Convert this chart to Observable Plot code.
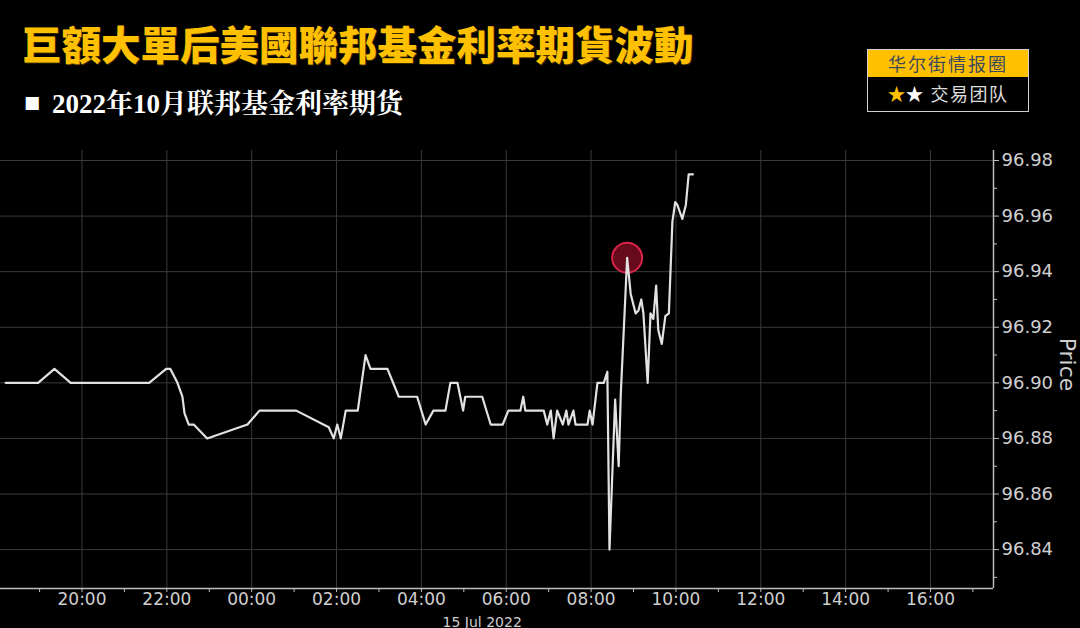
<!DOCTYPE html>
<html>
<head>
<meta charset="utf-8">
<script src="https://cdn.jsdelivr.net/npm/d3@7"></script>
<script src="https://cdn.jsdelivr.net/npm/@observablehq/plot@0.6"></script>
<style>
  html, body { margin: 0; padding: 0; background: #000; width: 1080px; height: 628px; overflow: hidden; }
  #header { position: relative; width: 1080px; height: 140px; }
  #title { position: absolute; left: 22px; top: 23px; font: 900 39.5px/40px "Noto Sans CJK TC", "Noto Sans CJK SC", sans-serif; color: #FFC000; white-space: nowrap; text-shadow: 1px 1px 0 #3a2a00; }
  #bullet { position: absolute; left: 24px; top: 92px; font: 17px/20px "DejaVu Sans", sans-serif; color: #fff; }
  #subtitle { position: absolute; left: 52px; top: 88px; font: bold 27px/32px "Liberation Serif", "Noto Serif CJK SC", "Noto Sans CJK SC", serif; color: #fff; white-space: nowrap; }
  #logo { position: absolute; left: 867px; top: 49px; width: 162px; height: 63px; box-sizing: border-box; border: 1.5px solid #d0d0d0; }
  #logo .top { height: 27px; background: #FFC000; color: #3b4a5e; font: 18px/27px "Noto Sans CJK SC", sans-serif; text-align: center; letter-spacing: 2px; }
  #logo .bot { height: 33px; background: #000; color: #ddd; font: 18px/33px "Noto Sans CJK SC", sans-serif; text-align: center; letter-spacing: 1.5px; }
  #logo .s1 { color: #FFC000; letter-spacing: 0; }
  #logo .s2 { color: #fff; }
</style>
</head>
<body>
<div id="header">
  <div id="title">巨額大單后美國聯邦基金利率期貨波動</div>
  <div id="bullet">■</div>
  <div id="subtitle">2022年10月联邦基金利率期货</div>
  <div id="logo">
    <div class="top">华尔街情报圈</div>
    <div class="bot"><span class="s1">★</span><span class="s2">★</span> 交易团队</div>
  </div>
</div>
<script>
// ---- data ----
const times = [
  "2022-07-14T18:12","2022-07-14T18:58","2022-07-14T19:21","2022-07-14T19:44","2022-07-14T21:35",
  "2022-07-14T21:59","2022-07-14T22:05","2022-07-14T22:15","2022-07-14T22:22","2022-07-14T22:25",
  "2022-07-14T22:31","2022-07-14T22:38","2022-07-14T22:57","2022-07-14T23:54","2022-07-15T00:11",
  "2022-07-15T01:03","2022-07-15T01:49","2022-07-15T01:56","2022-07-15T02:01","2022-07-15T02:06",
  "2022-07-15T02:13","2022-07-15T02:30","2022-07-15T02:41","2022-07-15T02:48","2022-07-15T03:12",
  "2022-07-15T03:28","2022-07-15T03:54","2022-07-15T04:06","2022-07-15T04:17","2022-07-15T04:34",
  "2022-07-15T04:41","2022-07-15T04:51","2022-07-15T04:59","2022-07-15T05:02","2022-07-15T05:26",
  "2022-07-15T05:38","2022-07-15T05:55","2022-07-15T06:03","2022-07-15T06:20","2022-07-15T06:24",
  "2022-07-15T06:27","2022-07-15T06:53","2022-07-15T06:58","2022-07-15T07:03","2022-07-15T07:07",
  "2022-07-15T07:12","2022-07-15T07:20","2022-07-15T07:25","2022-07-15T07:28","2022-07-15T07:35",
  "2022-07-15T07:38","2022-07-15T07:55","2022-07-15T07:58","2022-07-15T08:02","2022-07-15T08:09",
  "2022-07-15T08:18","2022-07-15T08:23","2022-07-15T08:26","2022-07-15T08:34","2022-07-15T08:39",
  "2022-07-15T08:42","2022-07-15T08:51","2022-07-15T08:56","2022-07-15T09:03","2022-07-15T09:07",
  "2022-07-15T09:11","2022-07-15T09:14","2022-07-15T09:20","2022-07-15T09:24","2022-07-15T09:28",
  "2022-07-15T09:32","2022-07-15T09:35","2022-07-15T09:40","2022-07-15T09:45","2022-07-15T09:50",
  "2022-07-15T09:55","2022-07-15T09:59","2022-07-15T10:02","2022-07-15T10:09","2022-07-15T10:14",
  "2022-07-15T10:18","2022-07-15T10:24"
];
const prices = [
  96.900, 96.900, 96.905, 96.900, 96.900,
  96.905, 96.905, 96.900, 96.895, 96.889,
  96.885, 96.885, 96.880, 96.885, 96.890,
  96.890, 96.884, 96.880, 96.885, 96.880,
  96.890, 96.890, 96.910, 96.905, 96.905,
  96.895, 96.895, 96.885, 96.890, 96.890,
  96.900, 96.900, 96.890, 96.895, 96.895,
  96.885, 96.885, 96.890, 96.890, 96.895,
  96.890, 96.890, 96.885, 96.890, 96.880,
  96.890, 96.885, 96.890, 96.885, 96.890,
  96.885, 96.885, 96.890, 96.885, 96.900,
  96.900, 96.904, 96.840, 96.894, 96.870,
  96.896, 96.945, 96.932, 96.925, 96.926,
  96.930, 96.925, 96.900, 96.925, 96.923,
  96.935, 96.919, 96.914, 96.924, 96.925,
  96.958, 96.965, 96.964, 96.959, 96.964,
  96.975, 96.975
];
const highlightTime = ["2022-07-15T08:51"];
const highlightPrice = [96.945];

const xTickTimes = [
  "2022-07-14T20:00","2022-07-14T22:00","2022-07-15T00:00","2022-07-15T02:00","2022-07-15T04:00",
  "2022-07-15T06:00","2022-07-15T08:00","2022-07-15T10:00","2022-07-15T12:00","2022-07-15T14:00",
  "2022-07-15T16:00"
];
const xMinorTimes = [
  "2022-07-14T19:00","2022-07-14T21:00","2022-07-14T23:00","2022-07-15T01:00","2022-07-15T03:00",
  "2022-07-15T05:00","2022-07-15T07:00","2022-07-15T09:00","2022-07-15T11:00","2022-07-15T13:00",
  "2022-07-15T15:00","2022-07-15T17:00"
];
const yTicks = [96.84, 96.86, 96.88, 96.90, 96.92, 96.94, 96.96, 96.98];
const yMinorTicks = [96.83, 96.85, 96.87, 96.89, 96.91, 96.93, 96.95, 96.97];
const dateLabel = ["15 Jul 2022"];
const dateLabelTime = ["2022-07-15T05:26"];
const yLabel = ["Price"];
const xDomainStr = ["2022-07-14T18:04:44", "2022-07-15T17:29:07"];
const yDomain = [96.826, 96.9836];

// ---- build ----
const utc = s => new Date(s + "Z");
const data = times.map((t, i) => ({t: utc(t), p: prices[i]}));
const hi = highlightTime.map((t, i) => ({t: utc(t), p: highlightPrice[i]}));
const xMajor = xTickTimes.map(utc);
const xMinor = xMinorTimes.map(utc);
const xDomain = xDomainStr.map(utc);
const fmt = d3.utcFormat("%H:%M");

const gridColor = "#3a3a3a";
const axisColor = "#bdbdbd";
const textColor = "#cfcfcf";

const chart = Plot.plot({
  width: 1080,
  height: 488,
  marginLeft: 0,
  marginRight: 87,
  marginTop: 10,
  marginBottom: 40,
  style: {background: "#000", color: textColor, fontFamily: "DejaVu Sans, sans-serif", fontSize: "18px", overflow: "visible"},
  x: {type: "utc", domain: xDomain},
  y: {domain: yDomain},
  marks: [
    Plot.gridX(xMajor, {stroke: gridColor, strokeOpacity: 1, strokeWidth: 1}),
    Plot.gridY(yTicks, {stroke: gridColor, strokeOpacity: 1, strokeWidth: 1}),
    Plot.axisX(xMinor, {tickSize: 4, stroke: axisColor, fill: "none", label: null}),
    Plot.axisX(xMajor, {tickSize: 4, tickPadding: 0, stroke: axisColor, fill: textColor, tickFormat: fmt, label: null, fontSize: 17}),
    Plot.axisY(yMinorTicks, {anchor: "right", tickSize: 3, stroke: axisColor, fill: "none", label: null}),
    Plot.axisY(yTicks, {anchor: "right", tickSize: 5, tickPadding: 3, stroke: axisColor, fill: textColor, tickFormat: d => d.toFixed(2), label: null, fontSize: 18}),
    Plot.ruleY([yDomain[0]], {stroke: axisColor, strokeWidth: 1.5}),
    Plot.ruleX([xDomain[1]], {stroke: axisColor, strokeWidth: 1.5}),
    Plot.dot(hi, {x: "t", y: "p", r: 15, fill: "#8a0f25", fillOpacity: 0.75, stroke: "#d8234a", strokeWidth: 2}),
    Plot.line(data, {x: "t", y: "p", stroke: "#e2e2e2", strokeWidth: 2.2, curve: "linear"}),
    Plot.text(yLabel, {frameAnchor: "right", dx: 74, dy: -5, rotate: 90, fontSize: 22, fill: textColor, textAnchor: "middle", lineAnchor: "middle"}),
    Plot.text(dateLabel, {x: dateLabelTime.map(utc), frameAnchor: "bottom", dy: 38, lineAnchor: "bottom", textAnchor: "middle", fontSize: 14, fill: textColor})
  ]
});
document.body.appendChild(chart);
</script>
</body>
</html>
